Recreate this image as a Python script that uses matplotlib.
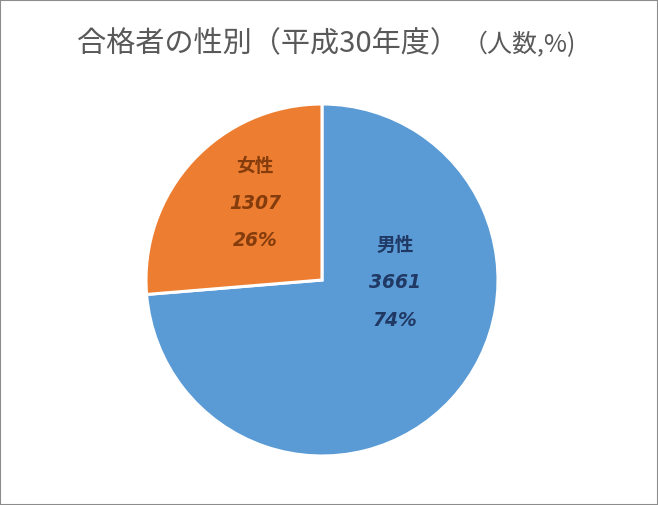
import matplotlib
matplotlib.use("Agg")
import matplotlib.pyplot as plt
from matplotlib.patches import Rectangle

categories = ["男性", "女性"]
values = [3661, 1307]
colors = ["#5B9BD5", "#ED7D31"]
label_colors = ["#203864", "#843C0C"]
title_main = "合格者の性別（平成30年度）"
title_sub = "（人数,%)"

plt.rcParams['font.family'] = ['Noto Sans CJK JP', 'DejaVu Sans']

W, H = 658, 505
fig = plt.figure(figsize=(W / 100, H / 100), dpi=100)

cx, cy, r = 322, 280, 176
ax = fig.add_axes([(cx - r) / W, (H - cy - r) / H, 2 * r / W, 2 * r / H])
wedges, _ = ax.pie(values, colors=colors, startangle=90, counterclock=False,
                   radius=1.0, wedgeprops=dict(edgecolor="white", linewidth=2.2))
ax.set_xlim(-1, 1)
ax.set_ylim(-1, 1)
ax.set_aspect("equal")
ax.axis("off")

total = sum(values)
# label anchor positions (pixel) for each slice label block
label_pos = [(395, 245), (255, 166)]
line_gap = 37.5
for i, (cat, v) in enumerate(zip(categories, values)):
    px, py = label_pos[i]
    pct = f"{round(v / total * 100):.0f}%"
    fig.text(px / W, 1 - py / H, cat, ha="center", va="center",
             fontsize=13.5, fontweight="bold", color=label_colors[i],
             family=['Noto Sans CJK JP', 'DejaVu Sans'])
    fig.text(px / W, 1 - (py + line_gap) / H, f"{v}", ha="center", va="center",
             fontsize=13.5, fontweight="bold", fontstyle="italic", color=label_colors[i],
             family=['DejaVu Sans'])
    fig.text(px / W, 1 - (py + 2 * line_gap) / H, pct, ha="center", va="center",
             fontsize=13.5, fontweight="bold", fontstyle="italic", color=label_colors[i],
             family=['DejaVu Sans'])

t1 = fig.text(77 / W, 1 - 52 / H, title_main, ha="left", va="baseline",
              fontsize=21, color="#595959")
fig.canvas.draw()
bb = t1.get_window_extent()
fig.text((bb.x1 + 4) / W, 1 - 52 / H, title_sub, ha="left", va="baseline",
         fontsize=18, color="#595959")

fig.patches.append(Rectangle((0, 0), 1, 1, transform=fig.transFigure,
                             fill=False, edgecolor="#8C8C8C", linewidth=1.5))

fig.savefig("out.png", dpi=100)
